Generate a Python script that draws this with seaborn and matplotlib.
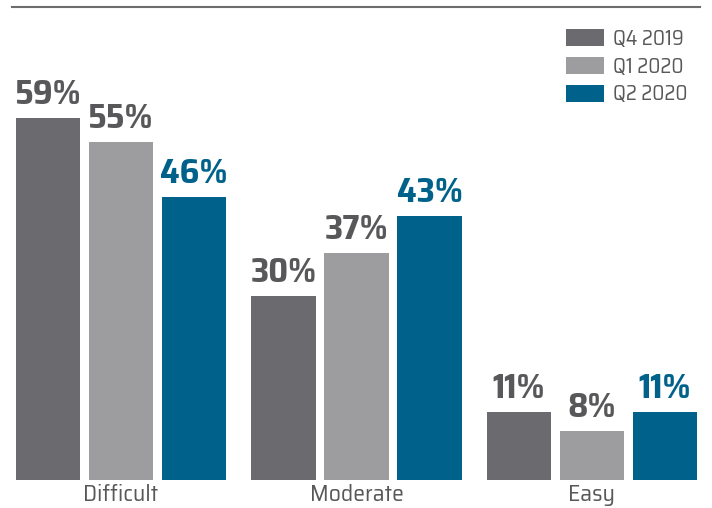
import matplotlib
matplotlib.use("Agg")
import matplotlib.pyplot as plt
import seaborn as sns
import pandas as pd

categories = ["Difficult", "Moderate", "Easy"]
periods = ["Q4 2019", "Q1 2020", "Q2 2020"]
q4_2019 = [59, 30, 11]
q1_2020 = [55, 37, 8]
q2_2020 = [46, 43, 11]

colors = ["#6b6a6f", "#9d9d9f", "#00628b"]
label_colors = ["#58585a", "#58585a", "#00628b"]

rows = []
for period, vals in zip(periods, [q4_2019, q1_2020, q2_2020]):
    for cat, v in zip(categories, vals):
        rows.append({"category": cat, "period": period, "value": v})
df = pd.DataFrame(rows)

sns.set_style("white")
plt.rcParams["font.family"] = ["Saira SemiCondensed", "DejaVu Sans"]

fig = plt.figure(figsize=(7.12, 5.08), dpi=100)
ax = fig.add_axes([12 / 712, 28 / 508, 688 / 712, 473 / 508])

sns.barplot(data=df, x="category", y="value", hue="period", order=categories,
            hue_order=periods, palette=colors, width=0.93, gap=0.12,
            saturation=1, linewidth=0, ax=ax, legend=True)

for container, lc in zip(ax.containers, label_colors):
    ax.bar_label(container, labels=[f"{v:.0f}%" for v in container.datavalues],
                 padding=5, fontsize=25, fontweight="bold", color=lc)

ax.set_xlim(-0.463, 2.459)
ax.set_ylim(0, 77)
ax.set_xlabel("")
ax.set_ylabel("")
ax.set_yticks([])
ax.tick_params(axis="x", length=0, pad=3, labelsize=17, labelcolor="#58585a")
for side in ["left", "right", "bottom"]:
    ax.spines[side].set_visible(False)
ax.spines["top"].set_visible(True)
ax.spines["top"].set_color("#6d6d6d")
ax.spines["top"].set_linewidth(1.5)

leg = ax.legend(loc="upper right", bbox_to_anchor=(702 / 712, 494 / 508),
                bbox_transform=fig.transFigure, frameon=False,
                fontsize=15, handlelength=1.8, handleheight=0.85,
                handletextpad=0.45, labelspacing=0.38, borderpad=0.2)
for t in leg.get_texts():
    t.set_color("#58585a")

fig.savefig("out.png", dpi=100)
